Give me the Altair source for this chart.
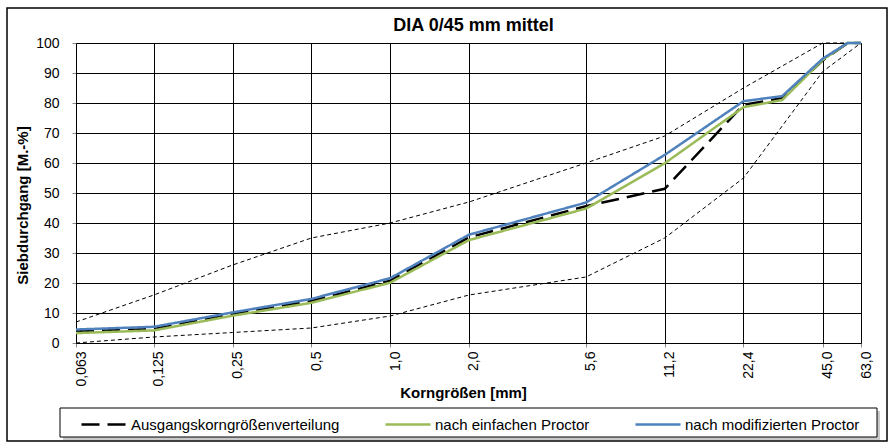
import altair as alt
import pandas as pd

# ---- data ----
sizes = [0.063, 0.125, 0.25, 0.5, 1.0, 2.0, 5.6, 11.2, 22.4, 31.5, 45.0, 56.0, 63.0]
ausgang = [3.9, 4.7, 9.7, 14.0, 20.8, 35.2, 45.6, 51.4, 79.4, 81.6, 94.2, 100, 100]
einfach = [3.3, 4.2, 9.1, 13.4, 20.1, 34.3, 44.8, 59.9, 78.6, 81.0, 94.4, 100, 100]
modifiziert = [4.5, 5.4, 10.2, 14.7, 21.6, 36.1, 46.8, 62.7, 80.6, 82.3, 94.8, 100, 100]

limit_sizes = [0.063, 0.125, 0.25, 0.5, 1.0, 2.0, 5.6, 11.2, 22.4, 45.0, 63.0]
upper = [7, 16, 26, 35, 40, 47, 60, 69, 85, 100, 100]
lower = [0, 2, 3.5, 5, 9, 16, 22, 35, 55, 90.5, 100]

tick_vals = [0.063, 0.125, 0.25, 0.5, 1.0, 2.0, 5.6, 11.2, 22.4, 45.0, 63.0]
tick_labels = ["0,063", "0,125", "0,25", "0,5", "1,0", "2,0", "5,6", "11,2", "22,4", "45,0", "63,0"]
y_ticks = list(range(0, 101, 10))

series_names = ["Ausgangskorngrößenverteilung", "nach einfachen Proctor", "nach modifizierten Proctor"]
series_colors = ["#000000", "#9BBB59", "#4F81BD"]
series_dash = [[18, 8], [1, 0], [1, 0]]

FONT = "Liberation Sans"

rows = []
for name, vals in zip(series_names, [ausgang, einfach, modifiziert]):
    for i, (s, v) in enumerate(zip(sizes, vals)):
        rows.append({"size": s, "value": v, "series": name, "order": i})
df = pd.DataFrame(rows)

lrows = []
for name, vals in zip(["upper", "lower"], [upper, lower]):
    for i, (s, v) in enumerate(zip(limit_sizes, vals)):
        lrows.append({"size": s, "value": v, "kind": name, "order": i})
ldf = pd.DataFrame(lrows)

label_expr = "".join(
    f"abs(datum.value - {v}) < 1e-6 ? '{l}' : " for v, l in zip(tick_vals, tick_labels)
) + "''"

x_enc = alt.X(
    "size:Q",
    scale=alt.Scale(type="log", domain=[0.063, 63], nice=False),
    axis=alt.Axis(
        values=tick_vals,
        labelExpr=label_expr,
        labelAngle=-90,
        labelFontSize=14,
        labelFont=FONT,
        labelColor="#000",
        labelOffset=5,
        labelPadding=4,
        tickSize=4,
        tickColor="#888",
        domainColor="#000",
        grid=True,
        gridColor="#000",
        gridWidth=1,
        title="Korngrößen [mm]",
        titleFont=FONT,
        titleFontSize=15,
        titleFontWeight="bold",
        titleColor="#000",
        titleX=387,
        titleY=49,
        titleBaseline="middle",
        titleAnchor="start",
        titleAlign="center",
        labelFlush=False,
        labelOverlap=False,
    ),
)
y_enc = alt.Y(
    "value:Q",
    scale=alt.Scale(domain=[0, 100], nice=False),
    axis=alt.Axis(
        values=y_ticks,
        labelFontSize=14,
        labelFont=FONT,
        labelColor="#000",
        labelPadding=13,
        tickSize=4,
        tickColor="#888",
        domainColor="#000",
        grid=True,
        gridColor="#000",
        gridWidth=1,
        title="Siebdurchgang [M.-%]",
        titleFont=FONT,
        titleFontSize=15,
        titleFontWeight="bold",
        titleColor="#000",
        titleX=-54,
        titleY=162,
        titleAngle=270,
        titleBaseline="middle",
        titleAlign="center",
    ),
)

one = pd.DataFrame({"k": [0]})

frame = alt.Chart(one).mark_rect(fill="white", fillOpacity=0, stroke="#000", strokeWidth=1.5).encode(
    x=alt.value(-69), x2=alt.value(811), y=alt.value(-35), y2=alt.value(398)
)
shadow = alt.Chart(one).mark_rect(fill="#888", opacity=0.45).encode(
    x=alt.value(-13), x2=alt.value(804), y=alt.value(368), y2=alt.value(397)
)
legbox = alt.Chart(one).mark_rect(fill="white", stroke="#000", strokeWidth=1).encode(
    x=alt.value(-16), x2=alt.value(801), y=alt.value(365), y2=alt.value(394)
)

limits = alt.Chart(ldf).mark_line(color="#000", strokeWidth=1, strokeDash=[4, 3]).encode(
    x=x_enc, y=y_enc, detail="kind:N", order="order:Q"
)

lines = alt.Chart(df).mark_line(strokeWidth=2.5).encode(
    x=x_enc,
    y=y_enc,
    order="order:Q",
    color=alt.Color(
        "series:N",
        scale=alt.Scale(domain=series_names, range=series_colors),
        legend=alt.Legend(
            title=None,
            orient="none",
            legendX=4,
            legendY=357.5,
            direction="horizontal",
            symbolType="stroke",
            symbolSize=2025,
            symbolStrokeWidth=2.5,
            labelFontSize=15,
            labelFont=FONT,
            labelColor="#000",
            labelOffset=3,
            columnPadding=40,
            padding=0,
            labelLimit=400,
        ),
    ),
    strokeDash=alt.StrokeDash(
        "series:N",
        scale=alt.Scale(domain=series_names, range=series_dash),
        legend=alt.Legend(title=None),
    ),
)

chart = alt.layer(frame, shadow, legbox, limits, lines).properties(
    width=785,
    height=300,
    autosize=alt.AutoSizeParams(type="none"),
    padding={"left": 76, "top": 43, "right": 34, "bottom": 101},
    background="white",
    title=alt.TitleParams(
        "DIA 0/45 mm mittel",
        fontSize=18,
        fontWeight="bold",
        font=FONT,
        color="#000",
        anchor="middle",
        dx=5,
        dy=42,
        offset=0,
        baseline="alphabetic",
    ),
).configure_view(stroke="#888", strokeWidth=1)

chart.save("out.html", embed_options={"renderer": "svg", "actions": False})
